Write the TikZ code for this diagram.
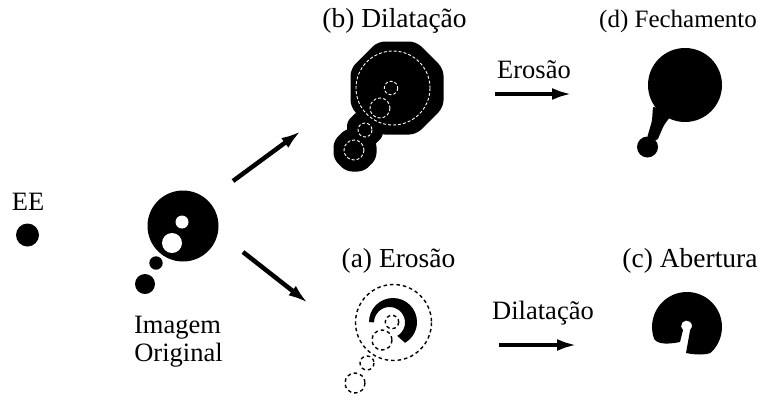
\documentclass[tikz,border=0pt]{standalone}
\usepackage{fontspec}
\setmainfont{Liberation Serif}
\usetikzlibrary{arrows.meta}
\newcommand{\octfill}[4]{%
  \fill[shift={(#1,#2)}, rounded corners=#4]
    (22.5:{#3*1.08239}) -- (67.5:{#3*1.08239}) -- (112.5:{#3*1.08239}) --
    (157.5:{#3*1.08239}) -- (202.5:{#3*1.08239}) -- (247.5:{#3*1.08239}) --
    (292.5:{#3*1.08239}) -- (337.5:{#3*1.08239}) -- cycle;}
\begin{document}
\begin{tikzpicture}[x=1pt,y=-1pt,
  lbl/.style={font=\fontsize{26.5}{30}\selectfont, inner sep=0pt, anchor=base},
  plbl/.style={font=\fontsize{27.5}{30}\selectfont, inner sep=0pt, anchor=base},
  bigarrow/.style={line width=4.5pt, -{Latex[length=20pt,width=12pt]}},
  wdash/.style={draw=white, line width=0.9pt, dash pattern=on 3pt off 2pt},
  bdash/.style={draw=black, line width=1.4pt, dash pattern=on 3.5pt off 3pt},
]
\useasboundingbox (0,0) rectangle (760,397);
\fill[white] (0,0) rectangle (760,397);

% ---- EE ----
\fill (27.5,235) circle[radius=11.5];
\node[lbl] (lee) at (28,210) {EE};

% ---- original image ----
\fill (183,226) circle[radius=35.5];
\fill[white] (182,222) circle[radius=6.5];
\fill[white] (172,243) circle[radius=10];
\fill (156,263) circle[radius=6.7];
\fill (145,284) circle[radius=10];
\node[lbl] (lim) at (177.5,333) {Imagem};
\node[lbl] (lor) at (178.5,361) {Original};

% ---- (b) dilation ----
\octfill{397}{88}{46.5}{7pt}
\octfill{365}{129}{18}{4pt}
\octfill{355}{150}{21.5}{6pt}
\draw[wdash] (393,88) circle[radius=37];
\draw[wdash] (391,88) circle[radius=6.7];
\draw[wdash] (380,108) circle[radius=10];
\draw[wdash] (365,130) circle[radius=7];
\draw[wdash] (354,150) circle[radius=10];
\node[plbl] (lb) at (394.5,27) {(b) Dilatação};

% ---- (a) erosion ----
\fill (369,322) arc[start angle=180,end angle=420,radius=24]
  -- (397.25,335.9) arc[start angle=60,end angle=-180,radius=15.5] -- cycle;
\draw[bdash] (393.5,322.5) circle[radius=38];
\draw[bdash] (392,322) circle[radius=6.7];
\draw[bdash] (382,340) circle[radius=10];
\draw[bdash] (367,363) circle[radius=7];
\draw[bdash] (355,383) circle[radius=10];
\node[plbl] (la) at (398.5,267) {(a) Erosão};

% ---- (d) closing ----
\fill (685,85) circle[radius=37];
\fill (647.5,147) circle[radius=10.5];
\fill[rounded corners=2pt] (653,106) -- (652,121) -- (647,138) -- (657,141) -- (664,125) -- (670,117) -- cycle;
\node[font=\fontsize{25}{30}\selectfont, inner sep=0pt, anchor=base] (ld) at (678,27) {(d) Fechamento};

% ---- (c) opening ----
\fill (680,342) -- (683,330.2) arc[start angle=130,end angle=410,radius=5.5]
  -- (686,353) .. controls (695,355) and (705,355) .. (710.4,353)
  arc[start angle=48,end angle=-200,radius=35]
  .. controls (658,345) and (670,344) .. (680,342) -- cycle;
\node[plbl] (lc) at (690,267) {(c) Abertura};

% ---- arrows and labels ----
\coordinate (ua) at (233,181);
\coordinate (ub) at (301,131);
\coordinate (da) at (243,252);
\coordinate (db) at (308,303);
\coordinate (ea) at (495,94);
\coordinate (eb) at (572,94);
\coordinate (fa) at (499,345);
\coordinate (fb) at (577,345);
\draw[bigarrow] (ua) -- (ub);
\draw[bigarrow] (da) -- (db);
\draw[bigarrow] (ea) -- (eb);
\draw[bigarrow] (fa) -- (fb);
\node[lbl] (lero) at (534,78) {Erosão};
\node[lbl] (ldil) at (543,319) {Dilatação};
\end{tikzpicture}
\end{document}
